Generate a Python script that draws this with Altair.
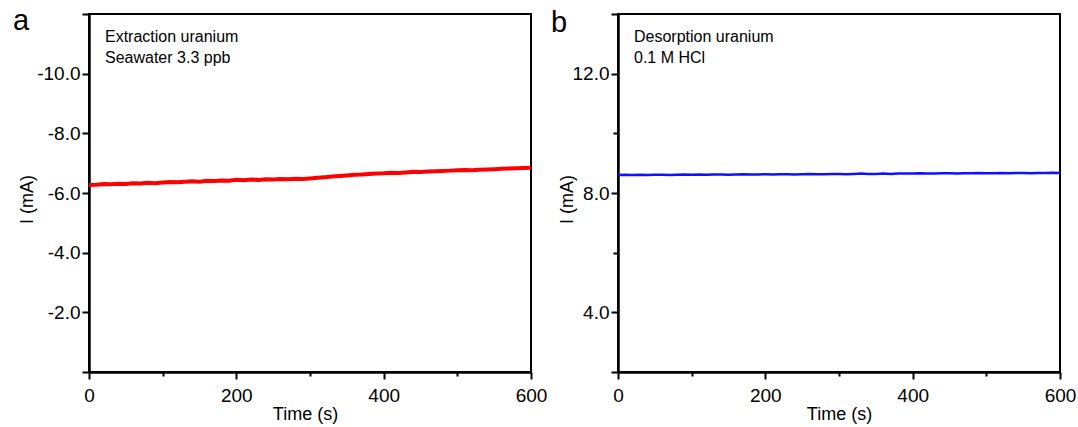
import altair as alt
import pandas as pd

FONT = "Liberation Sans"

time_s = list(range(0, 601, 10))
extraction_mA = [
    -6.27, -6.28, -6.30, -6.29, -6.31, -6.30, -6.33, -6.32, -6.34, -6.33,
    -6.35, -6.37, -6.36, -6.38, -6.39, -6.38, -6.41, -6.40, -6.42, -6.41,
    -6.44, -6.43, -6.45, -6.44, -6.46, -6.45, -6.47, -6.46, -6.48, -6.47,
    -6.49, -6.51, -6.53, -6.55, -6.57, -6.59, -6.61, -6.62, -6.64, -6.65,
    -6.66, -6.68, -6.67, -6.69, -6.71, -6.70, -6.72, -6.73, -6.74, -6.75,
    -6.76, -6.77, -6.76, -6.78, -6.79, -6.80, -6.81, -6.82, -6.83, -6.84,
    -6.85,
]
desorption_mA = [
    8.60, 8.61, 8.60, 8.61, 8.60, 8.61, 8.61, 8.60, 8.61, 8.62,
    8.61, 8.62, 8.61, 8.62, 8.62, 8.61, 8.62, 8.63, 8.62, 8.62,
    8.63, 8.62, 8.63, 8.63, 8.62, 8.63, 8.64, 8.63, 8.63, 8.64,
    8.64, 8.63, 8.64, 8.65, 8.64, 8.64, 8.65, 8.64, 8.65, 8.65,
    8.65, 8.66, 8.65, 8.65, 8.66, 8.66, 8.65, 8.66, 8.66, 8.67,
    8.66, 8.66, 8.67, 8.66, 8.67, 8.67, 8.66, 8.67, 8.67, 8.68,
    8.67,
]
x_ticks = [0, 100, 200, 300, 400, 500, 600]
left_y_ticks = [-12, -10, -8, -6, -4, -2, 0]
left_y_labels = [-10, -8, -6, -4, -2]
right_y_ticks = [2, 4, 6, 8, 10, 12, 14]
right_y_labels = [4, 8, 12]

left_text = ["Extraction uranium", "Seawater 3.3 ppb"]
right_text = ["Desorption uranium", "0.1 M HCl"]

df_left = pd.DataFrame({"t": time_s, "i": extraction_mA})
df_right = pd.DataFrame({"t": time_s, "i": desorption_mA})
one = pd.DataFrame({"k": [0]})


def x_enc(title_x):
    return alt.X(
        "t:Q",
        scale=alt.Scale(domain=[0, 600], nice=False, zero=False),
        axis=alt.Axis(
            values=x_ticks,
            title="Time (s)",
            labelExpr="datum.value % 200 == 0 ? datum.label : ''",
            tickSize={"condition": {"test": "datum.value % 200 != 0", "value": 4}, "value": 7},
            labelBaseline="alphabetic",
            labelPadding=22,
            labelFlush=False,
            labelOverlap=False,
            titleX=title_x,
            titleY=47,
            titleAlign="center",
            titleBaseline="alphabetic",
        ),
    )


def in_list(vals):
    return "indexof([" + ",".join(str(v) for v in vals) + "], datum.value) >= 0"


def panel(df, color, sw, domain, reverse, yticks, ylabels, letter, letter_x, letter_y, lines, title_x, ytitle_x):
    line = alt.Chart(df).mark_line(color=color, strokeWidth=sw).encode(
        x=x_enc(title_x),
        y=alt.Y(
            "i:Q",
            scale=alt.Scale(domain=domain, reverse=reverse, nice=False, zero=False),
            axis=alt.Axis(
                values=yticks,
                title="I (mA)",
                labelExpr=in_list(ylabels) + " ? replace(format(datum.value, '.1f'), '\u2212', '-') : ''",
                tickSize={"condition": {"test": in_list(ylabels) + " || datum.value == " + str(domain[0]) + " || datum.value == " + str(domain[1]), "value": 7}, "value": 5},
                labelPadding=2,
                labelOverlap=False,
                titleX=ytitle_x,
                titleY=185,
                titleBaseline="alphabetic",
                titleAngle=270,
            ),
        ),
    )
    letter_mark = alt.Chart(one).mark_text(
        text=letter, align="left", baseline="alphabetic", fontSize=29, font=FONT, color="black"
    ).encode(x=alt.value(letter_x), y=alt.value(letter_y))
    note = alt.Chart(one).mark_text(
        text=lines, align="left", baseline="alphabetic", fontSize=16, lineHeight=21, font=FONT, color="black"
    ).encode(x=alt.value(16), y=alt.value(28))
    return alt.layer(line, letter_mark, note).properties(width=442, height=358)


left = panel(df_left, "#ff0000", 4, [-12, 0], True, left_y_ticks, left_y_labels,
             "a", -76, 16, left_text, 216, -56.5)
right = panel(df_right, "#1010ff", 2.5, [2, 14], False, right_y_ticks, right_y_labels,
              "b", -67, 18, right_text, 221, -45.5)

chart = alt.hconcat(
    left, right, spacing=87, bounds="flush",
    padding={"left": 12, "top": 4, "right": 0, "bottom": 0},
    background="white",
).configure_view(
    stroke="black", strokeWidth=2
).configure_axis(
    grid=False,
    domainColor="black",
    domainWidth=2.5,
    tickColor="black",
    tickWidth=2,
    labelColor="black",
    labelFont=FONT,
    labelFontSize=19,
    titleFont=FONT,
    titleFontSize=18,
    titleFontWeight="normal",
    titleColor="black",
)

chart.save("out.html", embed_options={"renderer": "svg", "actions": False})
